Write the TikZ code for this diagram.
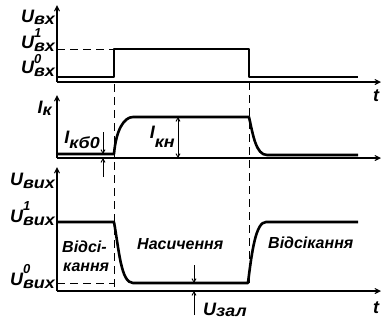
\documentclass[tikz,border=0pt]{standalone}
\usepackage{fontspec}
\setmainfont{Liberation Sans}
\newfontfamily\subfam[FakeStretch=1.12]{Liberation Sans}
\usetikzlibrary{arrows.meta}
\newcommand\sgl[5]{{\fontsize{18bp}{20bp}\selectfont #1}\rlap{\raisebox{#4}{\fontsize{13bp}{15bp}\selectfont #2}}\raisebox{-#5}{\subfam\bfseries\itshape\fontsize{16bp}{18bp}\selectfont #3}}
\newcommand\lblfont{\fontsize{16bp}{18bp}\selectfont\bfseries\itshape}
\begin{document}
\begin{tikzpicture}[x=1bp,y=-1bp,
  every node/.style={font=\lblfont, inner sep=0pt},
  axis/.style={line width=1.1bp, -{Straight Barb[length=5bp,width=5bp]}},
  sig/.style={line width=2.6bp, line join=round},
  guide/.style={line width=1bp, dash pattern=on 8bp off 5bp},
  dim/.style={line width=0.9bp, -{Straight Barb[length=3.5bp,width=4bp]}},
  ddim/.style={line width=0.9bp, {Straight Barb[length=3.5bp,width=4bp]}-{Straight Barb[length=3.5bp,width=4bp]}}]
\useasboundingbox (0,0) rectangle (381,320);
% axes
\coordinate (o1) at (57,82);
\coordinate (o2) at (57,158);
\coordinate (o3) at (57,291);
\draw[axis] (o1) -- (57,5);
\draw[axis] (o1) -- (381,82);
\draw[axis] (o2) -- (57,95);
\draw[axis] (o2) -- (381,158);
\draw[axis] (o3) -- (57,167);
\draw[axis] (o3) -- (381,291);
% guides
\draw[guide] (114,84) -- (114,291);
\draw[guide] (249,82) -- (249,283);
\draw[guide] (57,49) -- (114,49);
\draw[guide] (57,283) -- (114,283);
% input signal
\draw[sig] (57,77) -- (114,77) -- (114,49) -- (249,49) -- (249,77) -- (358,77);
% collector current
\draw[sig] (57,154) -- (114,154) .. controls (116,130) and (124,117) .. (133,117)
  -- (249,117) .. controls (253,135) and (256,155) .. (267,155) -- (358,155);
% output
\draw[sig] (57,222) -- (114,222) .. controls (119,250) and (121,283) .. (133,283)
  -- (248,283) .. controls (252,250) and (256,222) .. (266,222) -- (358,222);
% dimension arrows
\draw[dim] (103,132) -- (103,154);
\draw[dim] (103,177) -- (103,158);
\draw[ddim] (178,117) -- (178,158);
\draw[dim] (194,265) -- (194,283);
\draw[dim] (194,315) -- (194,291);
% labels
\node[anchor=base east] (luin) at (55,22) {\sgl{U}{}{вх}{0bp}{2bp}};
\node[anchor=base east] (lu1) at (55,48) {\sgl{U}{1}{вх}{11bp}{3bp}};
\node[anchor=base east] (lu0) at (55,73) {\sgl{U}{0}{вх}{10bp}{3bp}};
\node[anchor=base east] (lik) at (52,113) {\sgl{I}{}{к}{0bp}{2bp}};
\node[anchor=base east] (likb) at (100,143) {\sgl{I}{}{кб0}{0bp}{5bp}};
\node[anchor=base east] (likn) at (175,138) {\sgl{I}{}{кн}{0bp}{9bp}};
\node[anchor=base east] (luout) at (55,185) {\sgl{U}{}{вих}{0bp}{3bp}};
\node[anchor=base east] (lo1) at (55,222) {\sgl{U}{1}{вих}{12bp}{3bp}};
\node[anchor=base east] (lo0) at (55,285) {\sgl{U}{0}{вих}{12bp}{3bp}};
\node[anchor=base west] (lzal) at (203,315) {\sgl{U}{}{зал}{0bp}{1bp}};
\node[anchor=base] (t1) at (376,101) {\fontsize{18bp}{20bp}\selectfont t};
\node[anchor=base] (t3) at (376,313) {\fontsize{18bp}{20bp}\selectfont t};
\node[anchor=base west] (cut1) at (62,252) {Відсі-};
\node[anchor=base west] (cut2) at (63,271) {кання};
\node[anchor=base west] (sat) at (137,249) {Насичення};
\node[anchor=base west] (cut3) at (268,248) {Відсікання};
\end{tikzpicture}
\end{document}
